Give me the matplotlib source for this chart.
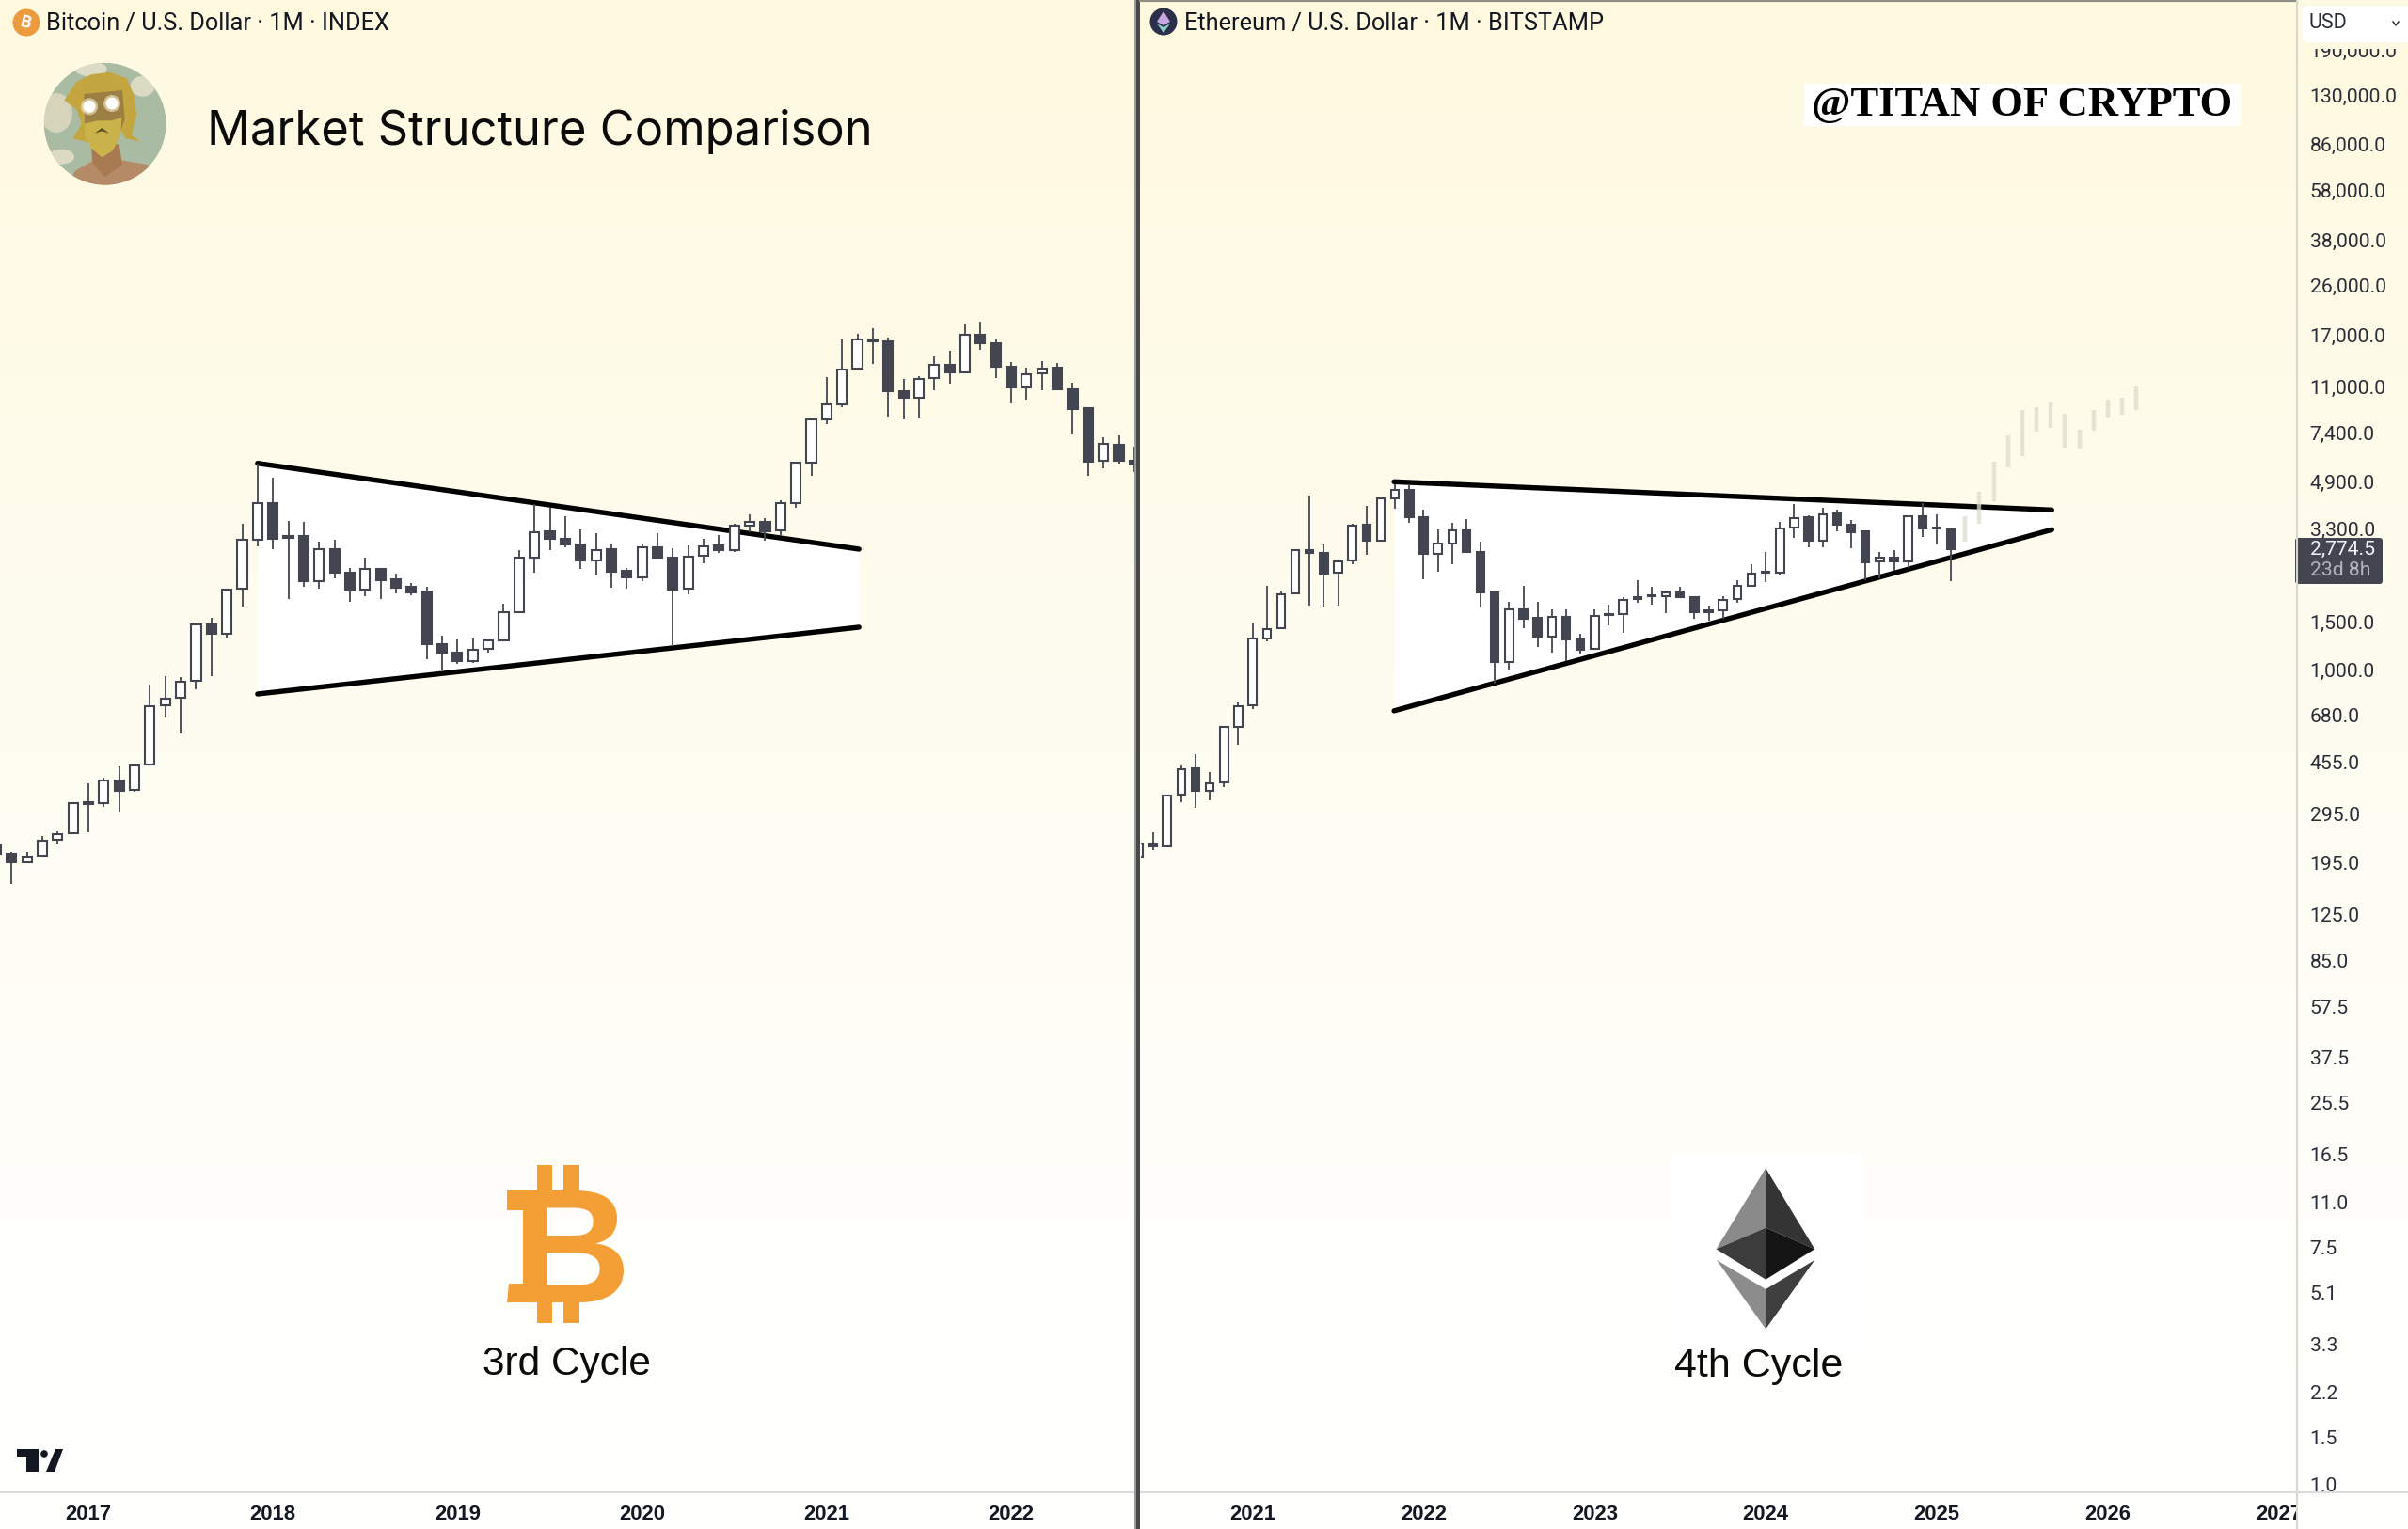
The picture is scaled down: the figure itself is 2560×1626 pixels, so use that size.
import numpy as np
import matplotlib
matplotlib.use("Agg")
import matplotlib.pyplot as plt
from matplotlib.font_manager import FontProperties
from matplotlib.patches import Circle, Ellipse, PathPatch, Polygon, Rectangle, FancyBboxPatch
from matplotlib.textpath import TextPath
from matplotlib.transforms import Affine2D, Bbox

# bitcoin monthly candles, index 0 is jan 2017
btc_months = np.arange(-6, 69)
btc_open = [687, 639, 590, 627, 718, 763, 990, 998, 1214, 1114, 1402, 2356, 2510, 2913, 4803, 4433, 6562, 10151, 13986,
            10465, 10465, 7051, 9345, 7598, 6508, 7857, 7130, 6672, 6418, 4036, 3757, 3477, 3861, 4184, 5350, 8674,
            10878, 10237, 9741, 8460, 9294, 7702, 7268, 9475, 8650, 6562, 8790, 9604, 9238, 11490, 11810, 10965, 13942,
            19960, 29298, 33450, 45702, 59250, 58114, 37466, 35446, 42070, 47375, 44220, 61580, 57325, 46600, 38832,
            43729, 45960, 37982, 32177, 20300, 23430, 20293]
btc_high = [687, 646, 646, 743, 776, 1006, 1187, 1248, 1371, 1394, 2827, 3037, 3012, 4830, 5089, 6598, 11624, 19750, 17440,
            11949, 11851, 9930, 10124, 7919, 8626, 7857, 7513, 6916, 6691, 4348, 4207, 4254, 4172, 5747, 9242, 13870,
            13418, 12487, 11120, 10698, 9768, 7881, 9741, 10698, 9371, 9633, 10176, 10518, 11620, 12623, 12246, 14332,
            20013, 29459, 42305, 58931, 62097, 65454, 60076, 41608, 42774, 51040, 53346, 67654, 69362, 59579, 48440,
            46213, 48702, 47900, 40251, 32444, 24899, 25314, 22984]
btc_low = [639, 488, 584, 625, 693, 761, 770, 960, 916, 1102, 1382, 2122, 1838, 2705, 3037, 4242, 5607, 9579, 9320, 6024,
           6691, 6562, 7188, 5876, 6176, 5990, 6331, 6193, 3535, 3192, 3401, 3420, 3746, 4125, 5335, 7578, 9214, 9449,
           7810, 7411, 6653, 6562, 7032, 8578, 3983, 6280, 8250, 8987, 9112, 10814, 10038, 10578, 13451, 17823, 28111,
           32630, 45702, 47507, 30030, 29217, 29623, 37676, 39926, 43729, 53944, 42181, 33543, 34866, 37676, 37982,
           25666, 17823, 19043, 19740, 18420]
btc_close = [639, 590, 622, 714, 757, 992, 1000, 1214, 1111, 1390, 2343, 2503, 2905, 4803, 4433, 6526, 10093, 13986, 10237,
             10293, 7032, 9345, 7598, 6490, 7832, 7110, 6653, 6383, 4036, 3746, 3468, 3851, 4172, 5335, 8626, 10848,
             10237, 9714, 8437, 9268, 7639, 7268, 9449, 8650, 6544, 8745, 9577, 9264, 11490, 11810, 10904, 14019, 19905,
             29217, 33268, 45452, 59088, 57954, 37466, 35349, 41837, 47245, 44097, 61410, 57325, 46471, 38727, 43495,
             45830, 37982, 32000, 20180, 23562, 20293, 19620]

# ethereum monthly candles, index 0 is jan 2021
eth_months = np.arange(-8, 50)
eth_open = [205, 229, 224, 346, 432, 359, 385, 616, 737, 1305, 1417, 1913, 2743, 2686, 2267, 2520, 3403, 2979, 4276, 4593,
            3646, 2672, 2917, 3262, 2715, 1923, 1063, 1671, 1547, 1326, 1567, 1288, 1189, 1605, 1597, 1814, 1876, 1866,
            1923, 1843, 1654, 1658, 1814, 2039, 2267, 2267, 3329, 3627, 2987, 3744, 3403, 3217, 2494, 2575, 2507, 3665,
            3320, 3280]
eth_high = [231, 252, 345, 442, 488, 421, 617, 755, 1475, 2028, 1938, 2773, 4356, 2886, 2534, 3448, 3991, 4298, 4805, 4768,
            3865, 3270, 3457, 3570, 2948, 1938, 1776, 2028, 1776, 1662, 1666, 1351, 1671, 1729, 1843, 2133, 2012, 1938,
            2012, 1861, 1720, 1857, 2133, 2435, 2700, 3494, 4065, 3695, 3938, 3875, 3541, 3217, 2715, 2751, 3704, 4098,
            3724, 3306]
eth_low = [203, 216, 223, 326, 309, 331, 368, 530, 714, 1267, 1409, 1887, 1725, 1697, 1716, 2435, 2644, 2964, 3896, 3457,
           2150, 2290, 2435, 2708, 1697, 890, 1000, 1421, 1211, 1155, 1072, 1146, 1180, 1451, 1369, 1757, 1733, 1618,
           1829, 1539, 1514, 1535, 1762, 2028, 2093, 2231, 3052, 2825, 2811, 3226, 2788, 2138, 2161, 2302, 2365, 3084,
           2893, 2110]
eth_close = [229, 224, 344, 431, 358, 382, 614, 731, 1301, 1409, 1897, 2751, 2679, 2260, 2501, 3394, 2979, 4254, 4593, 3646,
             2665, 2909, 3253, 2715, 1923, 1066, 1662, 1543, 1319, 1559, 1288, 1186, 1572, 1592, 1804, 1848, 1861, 1919,
             1843, 1631, 1631, 1804, 2028, 2260, 2285, 3314, 3617, 2979, 3734, 3403, 3192, 2487, 2575, 2501, 3654, 3296,
             3296, 2774.5]

# faint projected bars after the last eth candle
proj_months = np.arange(50, 63)
proj_high = [3654, 4521, 5818, 7292, 9016, 9260, 9587, 8712, 7609, 9016, 9843, 9975, 11035]
proj_low = [2964, 3439, 4153, 5532, 6119, 7488, 7771, 6557, 6488, 7569, 8484, 8690, 9016]

# triangles (month, upper price, lower price)
btc_tri_months = [11, 50.1]
btc_tri_upper = [19850, 9320]
btc_tri_lower = [2602, 4686]
eth_tri_months = [9.93, 56.07]
eth_tri_upper = [4909, 3865]
eth_tri_lower = [705, 3270]

# axis labels
btc_years = ["2017", "2018", "2019", "2020", "2021", "2022"]
eth_years = ["2021", "2022", "2023", "2024", "2025", "2026", "2027"]
price_ticks = [190000, 130000, 86000, 58000, 38000, 26000, 17000, 11000, 7400, 4900, 3300, 1500, 1000, 680, 455, 295, 195,
               125, 85, 57.5, 37.5, 25.5, 16.5, 11, 7.5, 5.1, 3.3, 2.2, 1.5, 1.0]

DARK = "#434651"
TEXT = "#131722"
plt.rcParams["font.family"] = ["Roboto", "DejaVu Sans"]

fig = plt.figure(figsize=(25.6, 16.26), dpi=100)


def draw_candles(ax, months, opens, highs, lows, closes, width):
    opens = np.array(opens, dtype=float)
    closes = np.array(closes, dtype=float)
    ax.vlines(months, lows, highs, color=DARK, lw=1.3, zorder=4)
    colors = ["white" if c >= o else DARK for o, c in zip(opens, closes)]
    ax.bar(months, np.abs(closes - opens), width, bottom=np.minimum(opens, closes), color=colors,
           edgecolor=DARK, linewidth=1.5, zorder=5)


def setup_panel(ax, xlim, ylim, labels):
    ax.set_facecolor("none")
    ax.set_yscale("log")
    ax.set_xlim(xlim)
    ax.set_ylim(ylim)
    ax.yaxis.set_minor_locator(matplotlib.ticker.NullLocator())
    ax.set_xticks([12 * n for n in range(len(labels))])
    ax.set_xticklabels(labels, fontsize=15.8, fontweight="bold", color=TEXT, family="Liberation Sans")
    ax.tick_params(axis="x", length=0, pad=9.5)
    for side in ["top", "left", "right"]:
        ax.spines[side].set_visible(False)
    ax.spines["bottom"].set_color("#dcdcdc")
    ax.spines["bottom"].set_linewidth(1.5)


# page gradient, cream at the top going to white
bg = fig.add_axes([0, 0, 1, 1], zorder=0)
rows = np.linspace(0, 1626, 256)
grad = np.stack([np.interp(rows, [0, 1626], [254, 255]),
                 np.interp(rows, [0, 400, 800, 1300, 1626], [249, 251, 253, 254, 255]),
                 np.interp(rows, [0, 400, 800, 1300, 1626], [223, 233, 242, 250, 254])], axis=1) / 255
bg.imshow(grad.reshape(256, 1, 3), aspect="auto")
bg.axis("off")

# left panel, bitcoin
ax1 = fig.add_axes([0, 39 / 1626, 1208 / 2560, 1587 / 1626], zorder=1)
setup_panel(ax1, (-5.749, 68.13), (2.298, 1.175e6), btc_years)
ax1.set_yticks([])
ax1.fill_between(btc_tri_months, btc_tri_lower, btc_tri_upper, color="white", lw=0, zorder=1)
ax1.plot(btc_tri_months, btc_tri_upper, color="black", lw=3.9, solid_capstyle="round", zorder=2)
ax1.plot(btc_tri_months, btc_tri_lower, color="black", lw=3.9, solid_capstyle="round", zorder=2)
draw_candles(ax1, btc_months, btc_open, btc_high, btc_low, btc_close, 0.62)

# right panel, ethereum
ax2 = fig.add_axes([1213 / 2560, 39 / 1626, 1228 / 2560, 1587 / 1626], zorder=1)
setup_panel(ax2, (-7.828, 73.21), (0.938, 290900), eth_years)
ax2.yaxis.tick_right()
ax2.set_yticks(price_ticks)
ax2.set_yticklabels([f"{p:,.1f}" for p in price_ticks], fontsize=15.2, color="#2a2e39", ha="left")
ax2.tick_params(axis="y", length=0, pad=10.5)
ax2.fill_between(eth_tri_months, eth_tri_lower, eth_tri_upper, color="white", lw=0, zorder=1)
ax2.plot(eth_tri_months, eth_tri_upper, color="black", lw=3.9, solid_capstyle="round", zorder=2)
ax2.plot(eth_tri_months, eth_tri_lower, color="black", lw=3.9, solid_capstyle="round", zorder=2)
draw_candles(ax2, eth_months, eth_open, eth_high, eth_low, eth_close, 0.56)
ax2.vlines(proj_months, proj_low, proj_high, color="#dedbcd", lw=3.2, alpha=0.75, zorder=6)
# the 2027 label runs into the price scale
for lab in ax2.get_xticklabels():
    lab.set_clip_box(Bbox([[0, 0], [2441, 60]]))
    lab.set_clip_on(True)

# everything else sits on an overlay in pixel coordinates
ov = fig.add_axes([0, 0, 1, 1], zorder=5)
ov.set_xlim(0, 2560)
ov.set_ylim(1626, 0)
ov.axis("off")

# divider and scale lines
ov.add_patch(Rectangle((1206, 0), 2, 1626, color="#9a9a98", lw=0))
ov.add_patch(Rectangle((1208, 0), 4, 1626, color="#484848", lw=0))
ov.plot([1212, 2441], [1.5, 1.5], color="#8f8f84", lw=1.6)
ov.plot([2441.5, 2441.5], [0, 1626], color="#d9d8cf", lw=1.5)
ov.plot([2441, 2560], [1587, 1587], color="#dcdcdc", lw=1.5)

# header lines
ov.text(49, 25, "Bitcoin / U.S. Dollar · 1M · INDEX", fontsize=18.3, color=TEXT, va="center")
ov.add_patch(Circle((28, 24), 14.5, color="#ec9b3e", lw=0))
ov.text(28, 24.5, "B", fontsize=13, fontweight="bold", color="white", ha="center", va="center", rotation=-12)
ov.text(1259, 25, "Ethereum / U.S. Dollar · 1M · BITSTAMP", fontsize=18.3, color=TEXT, va="center")
ov.add_patch(Circle((1237, 23), 14.5, color="#2b2f4a", lw=0))
ov.add_patch(Polygon([(1237, 12), (1230, 23), (1237, 27), (1244, 23)], color="#c9a7e0", lw=0))
ov.add_patch(Polygon([(1237, 35), (1230, 25), (1237, 29), (1244, 25)], color="#8ad1c8", lw=0))
ov.text(220, 140, "Market Structure Comparison", fontsize=36.5, color="#0b0b0b", va="center", family="Inter")


# avatar, points are given in a 3x crop of the picture
def av(pts):
    return [(40 + x / 3, 60 + y / 3) for x, y in pts]


clip = Circle((111.7, 131.7), 65, transform=ov.transData)
avatar = [Circle((111.7, 131.7), 65, color="#a9bca3", lw=0),
          Ellipse((40 + 60 / 3, 60 + 180 / 3), 34, 42, color="#d6d5bc", lw=0),
          Ellipse((40 + 335 / 3, 60 + 95 / 3), 26, 22, color="#dbdac2", lw=0),
          Ellipse((40 + 170 / 3, 60 + 40 / 3), 34, 16, color="#dcdcc6", lw=0),
          Ellipse((40 + 75 / 3, 60 + 320 / 3), 28, 16, color="#dcdac2", lw=0),
          Polygon(av([(90, 420), (120, 365), (190, 325), (260, 330), (350, 345), (410, 420)]), color="#b58a66", lw=0),
          Polygon(av([(170, 280), (260, 280), (270, 345), (215, 385), (175, 340)]), color="#a87a52", lw=0),
          Polygon(av([(85, 140), (125, 80), (170, 58), (230, 50), (285, 70), (310, 130), (315, 190), (300, 250),
                      (328, 272), (280, 262), (250, 200), (170, 200), (165, 275), (112, 262), (140, 215), (125, 170)]),
                  color="#c4a640", lw=0),
          Polygon(av([(148, 120), (270, 108), (278, 200), (250, 280), (210, 320), (170, 280), (150, 210)]),
                  color="#9c8043", lw=0),
          Polygon(av([(150, 215), (190, 205), (235, 205), (268, 195), (265, 250), (240, 300), (205, 322), (170, 292),
                      (150, 250)]), color="#cbb34b", lw=0),
          Polygon(av([(182, 245), (205, 228), (228, 245), (205, 238)]), color="#5a4a20", lw=0)]
for patch in avatar:
    ov.add_patch(patch)
    patch.set_clip_path(clip)
for cx, cy in [(165, 160), (237, 150)]:
    ov.add_patch(Circle((40 + cx / 3, 60 + cy / 3), 9, color="#fff6dc", alpha=0.55, lw=0))
    ov.add_patch(Circle((40 + cx / 3, 60 + cy / 3), 6.5, color="white", lw=0))

# watermark
ov.add_patch(Rectangle((1918, 89), 464, 45, color="white", lw=0))
ov.text(2150, 112, "@TITAN OF CRYPTO", fontsize=32, fontweight="bold", color="black", ha="center", va="center",
        family="Liberation Serif")

# currency box hides the top of the scale
ov.add_patch(Rectangle((2443, 0), 117, 52, color="#fef9e2", lw=0))
ov.add_patch(FancyBboxPatch((2451, 9), 112, 33, boxstyle="round,pad=3,rounding_size=6", color="white", lw=0))
ov.text(2454, 25, "USD", fontsize=15.5, color="#2a2e39", va="center")
ov.plot([2544, 2547, 2550], [23, 27, 23], color="#2a2e39", lw=1.1)

# last price tag
ov.add_patch(FancyBboxPatch((2442, 574), 89, 45, boxstyle="round,pad=2,rounding_size=3", color=DARK, lw=0))
ov.text(2456, 584, "2,774.5", fontsize=15.2, color="#f0f3fa", va="center")
ov.text(2456, 606, "23d 8h", fontsize=15.2, color="#b2b5be", va="center")

# bitcoin logo, glyph stretched a bit wider than the font draws it
orange = "#f39f35"
glyph = TextPath((0, 0), "B", size=1, prop=FontProperties(family="Liberation Sans", weight="bold"))
box = glyph.get_extents()
to_px = (Affine2D().translate(-box.x0, -box.y0).scale(107 / box.width, -119 / box.height).translate(556, 1385)
         + ov.transData)
ov.add_patch(PathPatch(glyph, color=orange, lw=0, transform=to_px))
ov.add_patch(Rectangle((539, 1266), 26, 21, color=orange, lw=0))
ov.add_patch(Polygon([(541, 1365), (565, 1365), (565, 1385), (539, 1385)], color=orange, lw=0))
for x0, x1 in [(571, 587), (599, 616)]:
    ov.add_patch(Rectangle((x0, 1239), x1 - x0, 30, color=orange, lw=0))
    ov.add_patch(Rectangle((x0, 1382), x1 - x0, 25, color=orange, lw=0))
ov.text(602, 1451, "3rd Cycle", fontsize=30.5, color="#0b0b0b", ha="center", va="center", family="Liberation Sans")

# ethereum logo
ov.add_patch(Rectangle((1776, 1226), 204, 214, color="white", lw=0))
faces = [([(323, 127), (227, 385), (323, 317)], "#8a8a8a"),
         ([(323, 127), (418, 385), (323, 317)], "#343434"),
         ([(227, 385), (323, 317), (323, 482)], "#3c3c3c"),
         ([(418, 385), (323, 317), (323, 482)], "#141414"),
         ([(228, 420), (323, 513), (323, 640)], "#8c8c8c"),
         ([(418, 420), (323, 513), (323, 640)], "#3f3f3f")]
for pts, col in faces:
    ov.add_patch(Polygon([(1700 + x / 1.823, 1200 + y / 3) for x, y in pts], color=col, lw=0))
ov.text(1870, 1453, "4th Cycle", fontsize=31, color="#0b0b0b", ha="center", va="center", family="Liberation Sans")

# tradingview mark
ov.add_patch(Polygon([(18, 1541), (41, 1541), (41, 1565), (28, 1565), (28, 1549), (18, 1549)], color=TEXT, lw=0))
ov.add_patch(Circle((47, 1546), 3.8, color=TEXT, lw=0))
ov.add_patch(Polygon([(59, 1541), (67, 1541), (58, 1565), (49, 1565)], color=TEXT, lw=0))

fig.savefig("out.png", dpi=100)
